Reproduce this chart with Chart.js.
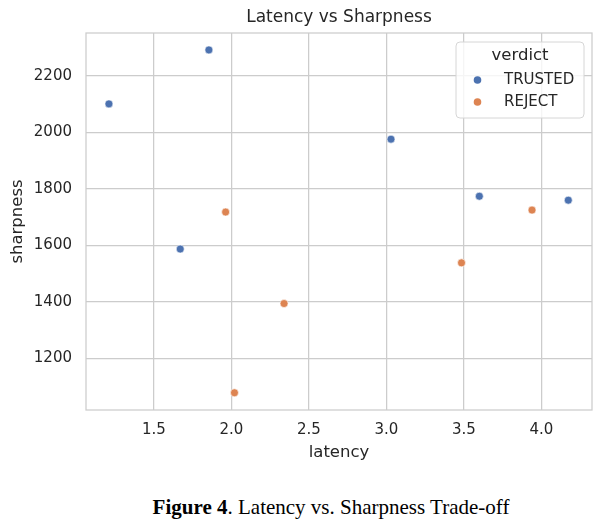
<!DOCTYPE html>
<html>
<head>
<meta charset="utf-8">
<script src="https://cdn.jsdelivr.net/npm/chart.js@4.4.0/dist/chart.umd.min.js"></script>
<style>
  body { margin: 0; background: #fff; width: 608px; height: 531px; position: relative; overflow: hidden; }
  #chart { position: absolute; left: 0; top: 0; }
  #caption {
    position: absolute; left: 331px; top: 495px; transform: translateX(-50%);
    white-space: nowrap; font-family: "Liberation Serif", "Times New Roman", serif;
    font-size: 21px; color: #000;
  }
</style>
</head>
<body>
<canvas id="chart" width="608" height="470"></canvas>
<div id="caption"><b>Figure 4</b>. Latency vs. Sharpness Trade-off</div>
<script>
// data
const trustedLatency = [1.21, 1.855, 1.67, 3.03, 3.60, 4.174];
const trustedSharpness = [2101, 2292, 1587, 1976, 1774, 1760];
const rejectLatency = [1.963, 2.02, 2.34, 3.485, 3.94];
const rejectSharpness = [1718, 1078, 1394, 1538, 1725];

const xTicks = [1.5, 2.0, 2.5, 3.0, 3.5, 4.0];
const yTicks = [1200, 1400, 1600, 1800, 2000, 2200];

const textColor = "#262626";
const gridColor = "#cccccc";
const font = "DejaVu Sans";

function toPoints(xs, ys) {
    return xs.map((x, i) => ({x: x, y: ys[i]}));
}

// frame round the plot area + title centered over it
const frameAndTitle = {
    id: "frameAndTitle",
    beforeDatasetsDraw(chart) {
        const {ctx, chartArea: a} = chart;
        ctx.save();
        ctx.strokeStyle = gridColor;
        ctx.lineWidth = 1.25;
        ctx.strokeRect(a.left, a.top, a.right - a.left, a.bottom - a.top);
        ctx.restore();
    },
    afterDraw(chart) {
        const {ctx, chartArea: a} = chart;
        ctx.save();
        ctx.fillStyle = textColor;
        ctx.font = "17px '" + font + "'";
        ctx.textAlign = "center";
        ctx.textBaseline = "middle";
        ctx.fillText("Latency vs Sharpness", (a.left + a.right) / 2, 18);
        ctx.restore();
    }
};

// matplotlib style legend box inside the plot, top right
const boxLegend = {
    id: "boxLegend",
    afterDatasetsDraw(chart) {
        const {ctx, chartArea: a} = chart;
        const w = 128, h = 76;
        const x = a.right - 8 - w, y = a.top + 9;
        ctx.save();
        ctx.beginPath();
        ctx.roundRect(x, y, w, h, 4);
        ctx.fillStyle = "rgba(255,255,255,0.8)";
        ctx.fill();
        ctx.strokeStyle = "#d6d6d6";
        ctx.lineWidth = 1;
        ctx.stroke();

        ctx.fillStyle = textColor;
        ctx.textBaseline = "middle";
        ctx.textAlign = "center";
        ctx.font = "16.5px '" + font + "'";
        ctx.fillText("verdict", x + w / 2, y + 14);

        ctx.font = "15px '" + font + "'";
        ctx.textAlign = "left";
        chart.data.datasets.forEach((ds, i) => {
            const cy = y + 38 + i * 22;
            ctx.beginPath();
            ctx.arc(x + 21.5, cy, 3.8, 0, Math.PI * 2);
            ctx.fillStyle = ds.backgroundColor;
            ctx.fill();
            ctx.fillStyle = textColor;
            ctx.fillText(ds.label, x + 48, cy);
        });
        ctx.restore();
    }
};

new Chart(document.getElementById("chart"), {
    type: "scatter",
    data: {
        datasets: [
            {
                label: "TRUSTED",
                data: toPoints(trustedLatency, trustedSharpness),
                backgroundColor: "#4c72b0",
                borderColor: "#ffffff",
                borderWidth: 0.6,
                pointRadius: 4
            },
            {
                label: "REJECT",
                data: toPoints(rejectLatency, rejectSharpness),
                backgroundColor: "#dd8452",
                borderColor: "#ffffff",
                borderWidth: 0.6,
                pointRadius: 4
            }
        ]
    },
    options: {
        responsive: false,
        animation: false,
        layout: {padding: {top: 33, right: 16, left: 0, bottom: 0}},
        plugins: {
            legend: {display: false},
            title: {display: false},
            tooltip: {enabled: false}
        },
        scales: {
            x: {
                type: "linear",
                min: 1.062,
                max: 4.327,
                afterFit: s => { s.height = 60; },
                afterBuildTicks: s => { s.ticks = xTicks.map(v => ({value: v})); },
                grid: {color: gridColor, lineWidth: 1.25, drawTicks: false},
                border: {display: false},
                ticks: {
                    color: textColor, padding: 11,
                    font: {family: font, size: 15},
                    callback: v => v.toFixed(1)
                },
                title: {
                    display: true, text: "latency", color: textColor,
                    font: {family: font, size: 16.5},
                    padding: {top: 0, bottom: 7}
                }
            },
            y: {
                type: "linear",
                min: 1017,
                max: 2352,
                afterFit: s => { s.width = 86; },
                afterBuildTicks: s => { s.ticks = yTicks.map(v => ({value: v})); },
                grid: {color: gridColor, lineWidth: 1.25, drawTicks: false},
                border: {display: false},
                ticks: {
                    color: textColor, padding: 14,
                    font: {family: font, size: 15},
                    callback: v => String(v)
                },
                title: {
                    display: true, text: "sharpness", color: textColor,
                    font: {family: font, size: 16.5},
                    padding: {top: 8, bottom: 0}
                }
            }
        }
    },
    plugins: [frameAndTitle, boxLegend]
});
</script>
</body>
</html>
